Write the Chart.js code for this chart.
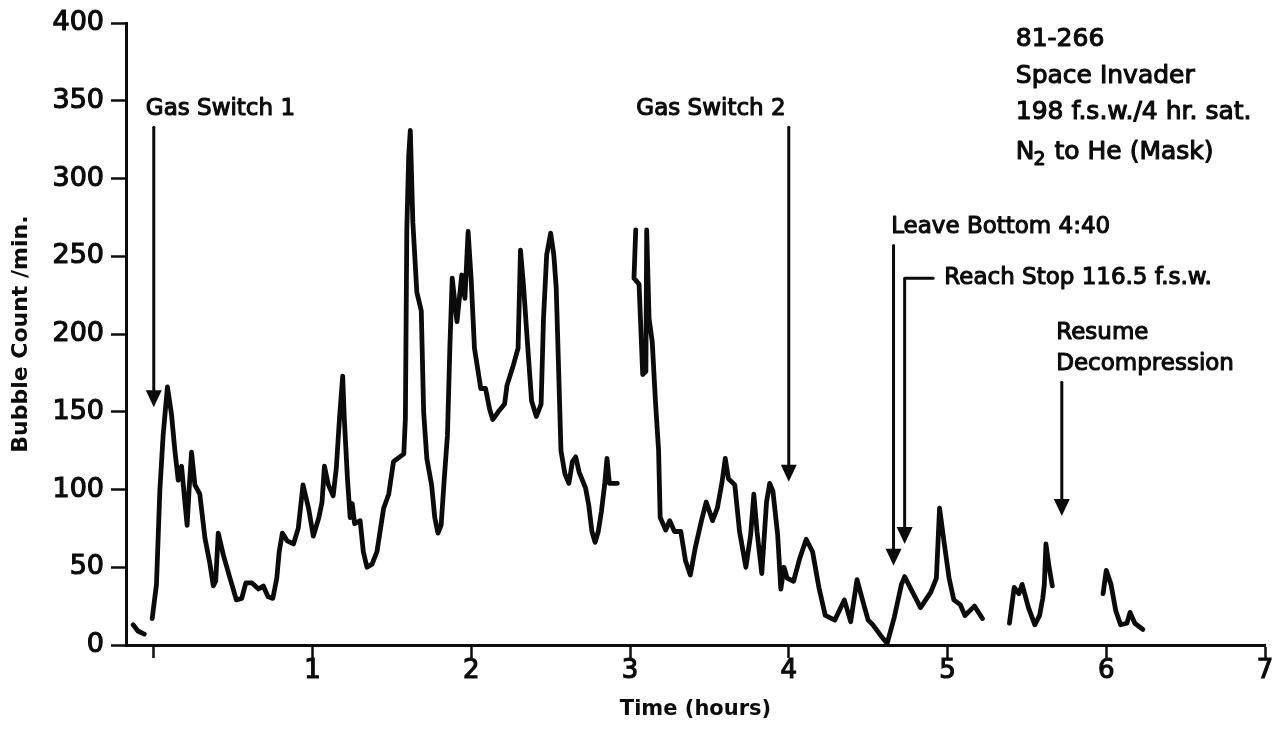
<!DOCTYPE html>
<html>
<head>
<meta charset="utf-8">
<title>Bubble count 81-266</title>
<script src="https://cdn.jsdelivr.net/npm/chart.js@4.4.0/dist/chart.umd.min.js"></script>
<style>
  html, body { margin: 0; padding: 0; background: #fff; }
</style>
</head>
<body>
<canvas id="bubblechart" width="1278" height="729"></canvas>
<script>
'use strict';

// trace pieces: hours / bubbles per minute
const seg1Hours = [-0.13, -0.10, -0.06];
const seg1Counts = [13, 9, 7];

const seg2Hours = [-0.01, 0.017, 0.038, 0.059, 0.086, 0.112, 0.133, 0.154, 0.175, 0.196, 0.21, 0.223, 0.238, 0.259, 0.29,
  0.322, 0.354, 0.375, 0.39, 0.406, 0.438, 0.48, 0.52, 0.554, 0.58, 0.617, 0.66, 0.69, 0.72, 0.75, 0.775, 0.79, 0.81,
  0.84, 0.88, 0.91, 0.94, 0.975, 1.005, 1.04, 1.06, 1.075, 1.10, 1.13, 1.15, 1.17, 1.19, 1.20, 1.22, 1.237, 1.25, 1.265,
  1.30, 1.32, 1.343, 1.375, 1.406, 1.448, 1.48, 1.51, 1.575, 1.585, 1.594, 1.606, 1.616, 1.632, 1.657, 1.685, 1.70,
  1.72, 1.75, 1.77, 1.79, 1.81, 1.83, 1.85, 1.865, 1.88, 1.91, 1.94, 1.96, 1.98, 2.00, 2.02, 2.06, 2.09, 2.115, 2.135,
  2.17, 2.21, 2.225, 2.265, 2.295, 2.31, 2.33, 2.35, 2.38, 2.41, 2.44, 2.455, 2.475, 2.50, 2.52, 2.535, 2.55, 2.565,
  2.59, 2.615, 2.637, 2.658, 2.68, 2.72, 2.74, 2.76, 2.78, 2.80, 2.82, 2.84, 2.855, 2.87, 2.92];
const seg2Counts = [17, 39, 99, 135, 166, 148, 125, 106, 115, 92, 77, 101, 124, 103, 97,
  69, 52, 38, 41, 72, 58, 43, 29, 30, 40, 40, 36, 38, 31, 30, 43, 60, 72,
  67, 65, 75, 103, 88, 70, 82, 92, 115, 103, 96, 114, 146, 173, 146, 107, 82, 91, 78,
  80, 60, 50, 52, 60, 88, 97, 118, 123, 146, 268, 315, 331, 272, 227, 215, 150,
  120, 103, 82, 72, 77, 107, 135, 191, 236, 208, 238, 223, 266, 234, 191, 165, 165, 152, 145,
  150, 155, 167, 180, 191, 254, 230, 200, 157, 147, 155, 210, 251, 265, 251, 230, 178, 125,
  110, 104, 118, 121, 111, 101, 90, 73, 66, 73, 86, 103, 120, 104, 104];

const seg3Hours = [3.036, 3.025, 3.057, 3.08, 3.10, 3.105, 3.12, 3.14, 3.16, 3.18, 3.19, 3.225, 3.25, 3.28, 3.32, 3.35,
  3.38, 3.41, 3.45, 3.48, 3.52, 3.55, 3.58, 3.60, 3.62, 3.66, 3.69, 3.73, 3.76, 3.78, 3.80, 3.83, 3.86, 3.88, 3.90,
  3.93, 3.95, 3.97, 3.99, 4.03, 4.07, 4.11, 4.15, 4.19, 4.23, 4.29, 4.35, 4.39, 4.43, 4.47, 4.50, 4.53, 4.58, 4.62,
  4.665, 4.71, 4.73, 4.77, 4.83, 4.895, 4.93, 4.95, 4.98, 5.01, 5.04, 5.08, 5.11, 5.17, 5.22];
const seg3Counts = [267, 236, 232, 174, 176, 267, 210, 195, 157, 125, 82, 74, 80, 73, 73, 54,
  45, 62, 80, 92, 80, 88, 105, 120, 107, 103, 73, 50, 71, 97, 73, 46, 92, 104, 99,
  71, 36, 50, 43, 41, 56, 68, 60, 37, 19, 16, 29, 15, 42, 27, 16, 13, 6, 1,
  18, 39, 44, 36, 24, 34, 43, 88, 65, 43, 29, 26, 19, 25, 17];

const seg4Hours = [5.39, 5.42, 5.45, 5.47, 5.51, 5.55, 5.58, 5.60, 5.61, 5.62, 5.64, 5.66];
const seg4Counts = [14, 37, 33, 39, 24, 13, 19, 30, 39, 65, 50, 38];

const seg5Hours = [5.98, 6.00, 6.03, 6.06, 6.09, 6.13, 6.15, 6.18, 6.23];
const seg5Counts = [33, 48, 39, 22, 13, 14, 21, 14, 10];

const xTicks = [0, 1, 2, 3, 4, 5, 6, 7];
const yTicks = [0, 50, 100, 150, 200, 250, 300, 350, 400];

const infoLines = ['81-266', 'Space Invader', '198 f.s.w./4 hr. sat.', 'N2 to He (Mask)'];

// event marks, placed in chart units
const notes = [
  { text: 'Gas Switch 1', h: -0.05, c: 345 },
  { text: 'Gas Switch 2', h: 3.04, c: 345 },
  { text: 'Leave Bottom 4:40', h: 4.645, c: 269 },
  { text: 'Reach Stop 116.5 f.s.w.', h: 4.98, c: 236 },
  { text: 'Resume', h: 5.685, c: 201 },
  { text: 'Decompression', h: 5.685, c: 181 }
];
const arrows = [
  { h: 0, from: 333, to: 153 },
  { h: 4.0, from: 333, to: 105 },
  { h: 4.66, from: 257, to: 51 },
  { h: 4.73, from: 236, to: 65, elbow: 4.91 },
  { h: 5.72, from: 169, to: 83 }
];

function joinSegments(list) {
  let pts = [];
  list.forEach(function (seg, i) {
    if (i > 0) pts.push({ x: seg[0][0] - 0.01, y: null });
    seg[0].forEach(function (h, k) {
      pts.push({ x: h, y: seg[1][k] });
    });
  });
  return pts;
}

const tracePoints = joinSegments([
  [seg1Hours, seg1Counts],
  [seg2Hours, seg2Counts],
  [seg3Hours, seg3Counts],
  [seg4Hours, seg4Counts],
  [seg5Hours, seg5Counts]
]);

const ink = '#0b0b0b';
const fam = '"DejaVu Sans", sans-serif';

// lettering in the original is heavier than a plain face, so fill + thin stroke
function heavyText(ctx, txt, x, y) {
  ctx.fillText(txt, x, y);
  ctx.strokeText(txt, x, y);
}

const notesPlugin = {
  id: 'notes',
  afterDatasetsDraw(chart) {
    const ctx = chart.ctx;
    const xs = chart.scales.x;
    const ys = chart.scales.y;
    ctx.save();
    ctx.fillStyle = ink;
    ctx.strokeStyle = ink;
    ctx.textBaseline = 'middle';
    ctx.textAlign = 'left';
    ctx.lineJoin = 'round';

    ctx.font = '23px ' + fam;
    ctx.lineWidth = 1.1;
    notes.forEach(function (n) {
      heavyText(ctx, n.text, xs.getPixelForValue(n.h), ys.getPixelForValue(n.c));
    });

    ctx.lineWidth = 3;
    ctx.lineCap = 'round';
    arrows.forEach(function (a) {
      const x = xs.getPixelForValue(a.h);
      const y0 = ys.getPixelForValue(a.from);
      const y1 = ys.getPixelForValue(a.to);
      ctx.beginPath();
      if (a.elbow !== undefined) {
        ctx.moveTo(xs.getPixelForValue(a.elbow), y0);
        ctx.lineTo(x, y0);
      } else {
        ctx.moveTo(x, y0);
      }
      ctx.lineTo(x, y1 - 12);
      ctx.stroke();
      ctx.beginPath();
      ctx.moveTo(x, y1);
      ctx.lineTo(x - 8, y1 - 17);
      ctx.lineTo(x + 8, y1 - 17);
      ctx.closePath();
      ctx.fill();
    });

    // run info, top right
    const left = xs.getPixelForValue(5.43);
    const infoY = [389.5, 366, 342.5, 317];
    ctx.font = '25px ' + fam;
    ctx.lineWidth = 1.1;
    infoLines.forEach(function (line, i) {
      const y = ys.getPixelForValue(infoY[i]);
      if (line.indexOf('N2') === 0) {
        heavyText(ctx, 'N', left, y);
        let w = ctx.measureText('N').width;
        ctx.font = '19px ' + fam;
        heavyText(ctx, '2', left + w - 1, y + 8);
        let w2 = ctx.measureText('2').width;
        ctx.font = '25px ' + fam;
        heavyText(ctx, line.slice(2), left + w + w2, y);
      } else {
        heavyText(ctx, line, left, y);
      }
    });
    ctx.restore();
  }
};

const config = {
  type: 'line',
  data: {
    datasets: [{
      label: 'Bubble count',
      data: tracePoints,
      borderColor: ink,
      borderWidth: 4.8,
      pointRadius: 0,
      tension: 0,
      spanGaps: false,
      borderJoinStyle: 'round',
      borderCapStyle: 'round',
      fill: false
    }]
  },
  options: {
    responsive: false,
    animation: false,
    devicePixelRatio: 1,
    layout: { padding: { top: 22, right: 13, left: 0, bottom: 0 } },
    plugins: {
      legend: { display: false },
      tooltip: { enabled: false }
    },
    scales: {
      x: {
        type: 'linear',
        min: -0.175,
        max: 7,
        afterBuildTicks: function (s) { s.ticks = xTicks.map(v => ({ value: v })); },
        afterFit: function (s) { s.height = 84; },
        ticks: {
          callback: v => (v === 0 ? '' : v),
          color: ink,
          textStrokeColor: ink,
          textStrokeWidth: 1.2,
          font: { family: fam, size: 26 },
          padding: -2,
          maxRotation: 0,
          autoSkip: false
        },
        grid: { drawOnChartArea: false, drawTicks: true, tickLength: 13, tickWidth: 2.5, tickColor: ink },
        border: { display: true, color: ink, width: 3 },
        title: {
          display: true,
          text: 'Time (hours)',
          color: ink,
          font: { family: fam, size: 21, weight: 'bold' },
          padding: { top: 2, bottom: 7 }
        }
      },
      y: {
        min: 0,
        max: 400,
        afterBuildTicks: function (s) { s.ticks = yTicks.map(v => ({ value: v })); },
        afterFit: function (s) { s.width = 126; },
        ticks: {
          color: ink,
          textStrokeColor: ink,
          textStrokeWidth: 1.2,
          font: { family: fam, size: 27 },
          padding: 7,
          autoSkip: false
        },
        grid: { drawOnChartArea: false, drawTicks: true, tickLength: 15, tickWidth: 2.5, tickColor: ink },
        border: { display: true, color: ink, width: 3 },
        title: {
          display: true,
          text: 'Bubble Count /min.',
          color: ink,
          font: { family: fam, size: 22, weight: 'bold' },
          padding: { top: 8, bottom: 4 }
        }
      }
    }
  },
  plugins: [notesPlugin]
};

const bubbleChart = new Chart(document.getElementById('bubblechart'), config);
</script>
</body>
</html>
